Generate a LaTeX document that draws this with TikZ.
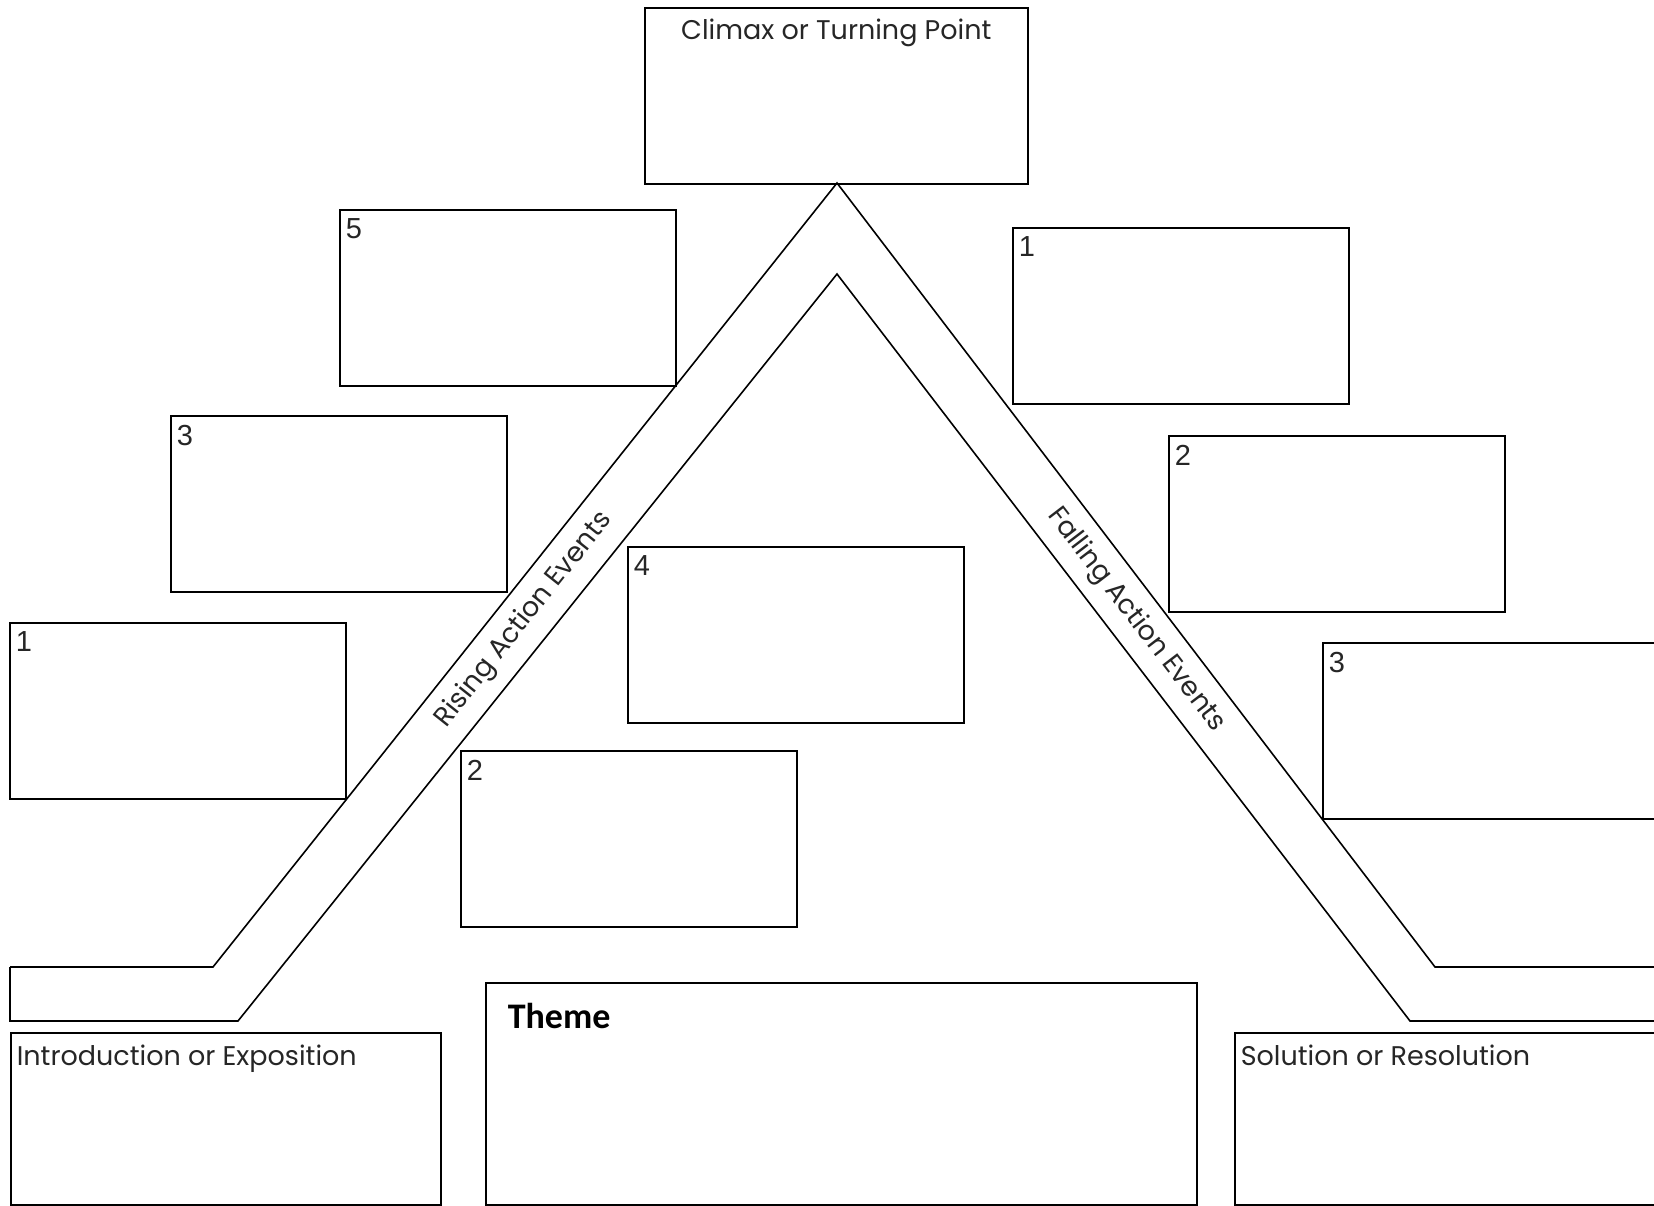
\documentclass[tikz,border=0pt]{standalone}
\usepackage{fontspec}
\setmainfont{Poppins}
\newfontfamily\numfont{Liberation Sans}
\newfontfamily\themefont{Carlito}

\begin{document}
\begin{tikzpicture}[x=1pt,y=-1pt,line width=1.6pt,
    evbox/.style={draw,anchor=north west,inner sep=0pt,minimum width=336pt,minimum height=176pt},
    num/.style={anchor=north west,inner sep=0pt,text=black!85,font=\numfont\fontsize{29}{30}\selectfont},
    ttl/.style={anchor=base west,inner sep=0pt,text=black!85,font=\fontsize{27}{30}\selectfont},
    bandlbl/.style={inner sep=0pt,text=black!85,font=\fontsize{27}{30}\selectfont}]
    \clip (0,0) rectangle (1654,1206);
    % the band
    \coordinate (ao) at (837,183);
    \coordinate (ai) at (837,274);
    \draw (10,967) -- (213,967) -- (ao) -- (1435,967) -- (1670,967);
    \draw (10,967) -- (10,1021) -- (238,1021) -- (ai) -- (1410,1021) -- (1670,1021);
    \node[bandlbl,rotate=51.5] (rising) at (524,620) {Rising Action Events};
    \node[bandlbl,rotate=-52.5] (falling) at (1136,620) {Falling Action Events};
    % climax
    \node[evbox,minimum width=383pt] (climax) at (644,7) {};
    \node[ttl,anchor=base] (climaxlbl) at ([yshift=-33pt]climax.north) {Climax or Turning Point};
    % rising events
    \node[evbox] (r5) at (339,209) {};
    \node[evbox] (r3) at (170,415) {};
    \node[evbox] (r1) at (9,622) {};
    \node[evbox] (r4) at (627,546) {};
    \node[evbox] (r2) at (460,750) {};
    \node[num] (n5) at ([shift={(6,9)}]r5.north west) {5};
    \node[num] (n3) at ([shift={(6,9)}]r3.north west) {3};
    \node[num] (n1) at ([shift={(6,9)}]r1.north west) {1};
    \node[num] (n4) at ([shift={(6,9)}]r4.north west) {4};
    \node[num] (n2) at ([shift={(6,9)}]r2.north west) {2};
    % falling events
    \node[evbox] (f1) at (1012,227) {};
    \node[evbox] (f2) at (1168,435) {};
    \node[evbox,minimum width=400pt] (f3) at (1322,642) {};
    \node[num] (m1) at ([shift={(6,9)}]f1.north west) {1};
    \node[num] (m2) at ([shift={(6,9)}]f2.north west) {2};
    \node[num] (m3) at ([shift={(6,9)}]f3.north west) {3};
    % bottom row
    \node[evbox,minimum width=430pt,minimum height=172pt] (intro) at (10,1032) {};
    \node[evbox,minimum width=711pt,minimum height=222pt] (theme) at (485,982) {};
    \node[evbox,minimum width=480pt,minimum height=172pt] (sol) at (1234,1032) {};
    \node[ttl] (introlbl) at ([shift={(6,33)}]intro.north west) {Introduction or Exposition};
    \node[ttl] (sollbl) at ([shift={(6,33)}]sol.north west) {Solution or Resolution};
    \node[anchor=base west,inner sep=0pt,font=\themefont\bfseries\fontsize{36}{40}\selectfont] (themelbl)
      at ([shift={(22,46)}]theme.north west) {Theme};
\end{tikzpicture}
\end{document}
